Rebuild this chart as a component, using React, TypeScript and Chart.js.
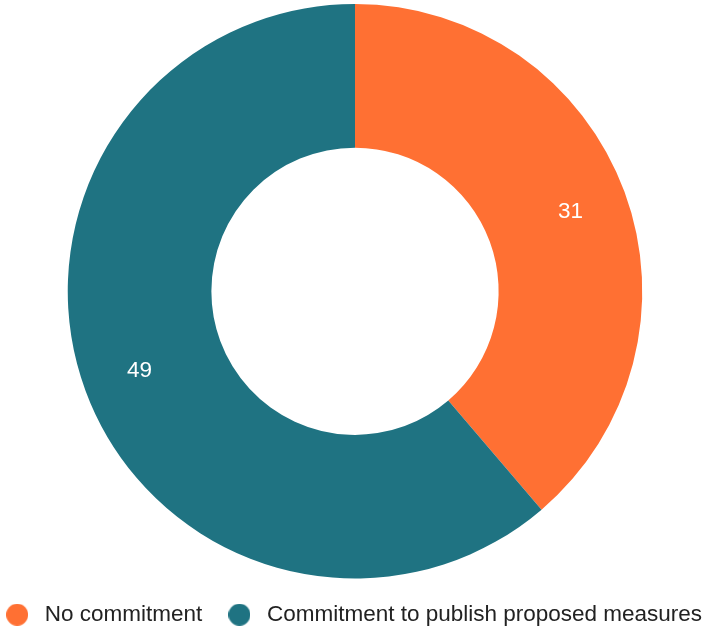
import React, { useEffect, useRef } from "react";
import { Chart, registerables } from "chart.js";

Chart.register(...registerables);

const categories = ["No commitment", "Commitment to publish proposed measures"];
const values = [31, 49];
const colors = ["#FF7033", "#1F7382"];

const FONT = "'Liberation Sans', Arial, sans-serif";

function circleImage(color: string, d: number) {
  const c = document.createElement("canvas");
  c.width = d;
  c.height = d;
  const g = c.getContext("2d")!;
  g.fillStyle = color;
  g.beginPath();
  g.arc(d / 2, d / 2, d / 2, 0, Math.PI * 2);
  g.fill();
  return c;
}

const labelPlugin = {
  id: "sliceLabels",
  afterLayout(chart: any) {
    const lg = chart.legend;
    if (lg) {
      lg.left -= 3.5;
      lg.right -= 3.5;
      lg.top += 4;
      lg.bottom += 4;
    }
  },
  afterDatasetsDraw(chart: any) {
    const ctx = chart.ctx;
    const meta = chart.getDatasetMeta(0);
    ctx.save();
    ctx.fillStyle = "#ffffff";
    ctx.font = "22.5px " + FONT;
    ctx.textAlign = "center";
    ctx.textBaseline = "middle";
    meta.data.forEach((arc: any, i: number) => {
      const p = arc.getProps(["x", "y", "startAngle", "endAngle", "innerRadius", "outerRadius"], true);
      const mid = (p.startAngle + p.endAngle) / 2;
      const r = p.innerRadius + 0.6 * (p.outerRadius - p.innerRadius);
      ctx.fillText(String(values[i]), p.x + r * Math.cos(mid), p.y + r * Math.sin(mid));
    });
    ctx.restore();
  },
};

export default function App() {
  const ref = useRef<HTMLCanvasElement>(null);
  useEffect(() => {
    const images = colors.map((c) => circleImage(c, 22));
    const chart = new Chart(ref.current!, {
      type: "doughnut",
      data: {
        labels: categories,
        datasets: [
          {
            data: values,
            backgroundColor: colors,
            borderWidth: 0,
          },
        ],
      },
      options: {
        animation: false,
        responsive: true,
        maintainAspectRatio: false,
        cutout: "50%",
        layout: { padding: { top: 4, bottom: -2, left: -23, right: -23 } },
        plugins: {
          tooltip: { enabled: false },
          legend: {
            position: "bottom",
            labels: {
              usePointStyle: true,
              pointStyleWidth: 32.5,
              boxHeight: 16,
              padding: 21,
              color: "#222222",
              font: { size: 22.5, family: FONT },
              generateLabels: () =>
                categories.map((t, i) => ({
                  text: t,
                  fillStyle: colors[i],
                  strokeStyle: colors[i],
                  lineWidth: 0,
                  hidden: false,
                  index: i,
                  datasetIndex: 0,
                  pointStyle: images[i],
                  fontColor: "#222222",
                })),
            },
          },
        },
      },
      plugins: [labelPlugin],
    });
    return () => chart.destroy();
  }, []);
  return (
    <div style={{ position: "absolute", left: 5, top: 0, width: 700, height: 630 }}>
      <canvas ref={ref} />
    </div>
  );
}
